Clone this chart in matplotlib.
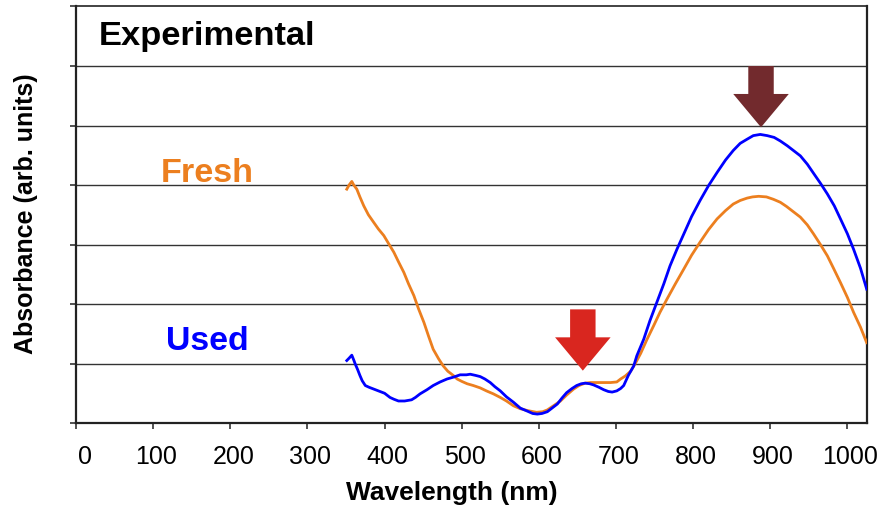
import matplotlib
matplotlib.use("Agg")
import matplotlib.pyplot as plt
from matplotlib.transforms import ScaledTranslation

plt.rcParams['font.family'] = ['Liberation Sans', 'DejaVu Sans']

# Absorbance spectra (arbitrary units)
fresh_nm = [351, 354, 357.5, 360, 364, 368, 373, 379, 386, 392, 399, 405, 412, 418,
            425, 431, 438, 444, 451, 457, 463, 470, 476, 482, 489, 494, 500, 507,
            515, 524, 532, 541, 550, 558, 567, 576, 585, 597, 605, 611, 619, 628,
            636, 645, 652, 660, 667, 675, 684, 693, 701, 706, 712, 719, 725, 732,
            740, 749, 757, 766, 777, 788, 798, 809, 820, 831, 842, 852, 861, 870,
            877, 885, 895, 904, 913, 921, 930, 939, 948, 956, 965, 974, 982, 991,
            1000, 1008, 1017, 1025]
fresh_abs = [3.93, 4.00, 4.06, 4.00, 3.93, 3.80, 3.65, 3.50, 3.37, 3.26, 3.15, 3.02,
             2.87, 2.71, 2.53, 2.34, 2.14, 1.92, 1.69, 1.46, 1.24, 1.08, 0.96, 0.87,
             0.80, 0.74, 0.70, 0.66, 0.63, 0.59, 0.54, 0.49, 0.43, 0.37, 0.29, 0.24,
             0.21, 0.18, 0.19, 0.22, 0.29, 0.37, 0.47, 0.57, 0.63, 0.67, 0.68, 0.68,
             0.68, 0.68, 0.69, 0.74, 0.79, 0.87, 1.00, 1.17, 1.40, 1.64, 1.86, 2.08,
             2.34, 2.59, 2.82, 3.04, 3.25, 3.43, 3.57, 3.68, 3.74, 3.78, 3.80, 3.81,
             3.80, 3.76, 3.71, 3.64, 3.55, 3.46, 3.33, 3.18, 3.00, 2.81, 2.60, 2.36,
             2.11, 1.86, 1.61, 1.35]

used_nm = [351, 354, 357.5, 360, 362, 365, 368, 371, 375, 380, 386, 394, 400, 407,
           412, 418, 426, 435, 440, 446, 455, 463, 472, 481, 489, 498, 506, 511,
           518, 524, 530, 537, 543, 550, 558, 567, 576, 585, 592, 598, 604, 611,
           617, 624, 630, 636, 643, 649, 655, 660, 666, 671, 678, 684, 690, 695,
           701, 706, 710, 716, 723, 727, 736, 744, 753, 762, 770, 779, 788, 798,
           809, 820, 831, 842, 852, 861, 870, 878, 887, 896, 905, 913, 922, 930,
           939, 948, 957, 965, 974, 983, 991, 1000, 1008, 1017, 1025]
used_abs = [1.05, 1.09, 1.14, 1.06, 0.99, 0.90, 0.80, 0.71, 0.63, 0.60, 0.57, 0.53,
            0.50, 0.43, 0.40, 0.37, 0.37, 0.39, 0.43, 0.49, 0.56, 0.63, 0.69, 0.74,
            0.77, 0.81, 0.81, 0.82, 0.80, 0.78, 0.74, 0.68, 0.61, 0.54, 0.44, 0.35,
            0.25, 0.20, 0.16, 0.15, 0.16, 0.19, 0.25, 0.32, 0.42, 0.51, 0.58, 0.63,
            0.66, 0.67, 0.66, 0.64, 0.60, 0.56, 0.53, 0.52, 0.54, 0.58, 0.63, 0.80,
            0.96, 1.13, 1.41, 1.72, 2.03, 2.34, 2.64, 2.92, 3.18, 3.47, 3.74, 3.99,
            4.21, 4.42, 4.58, 4.70, 4.77, 4.83, 4.85, 4.83, 4.80, 4.74, 4.66, 4.58,
            4.49, 4.35, 4.18, 4.03, 3.85, 3.65, 3.43, 3.18, 2.92, 2.60, 2.25]

x_ticks = [0, 100, 200, 300, 400, 500, 600, 700, 800, 900, 1000]
x_tick_labels = [str(v) for v in x_ticks]

# Block arrows marking the absorption bands: (tip wavelength, tip height, colour)
band_arrows = [(657, 0.88, '#D9261F'), (888, 4.97, '#722A2D')]

ORANGE = '#EC7F1F'
BLUE = '#0000FF'

fig = plt.figure(figsize=(8.79, 5.10), dpi=100)
ax = fig.add_axes([0.0865, 0.1686, 0.8995, 0.8167])

ax.set_xlim(0, 1025)
ax.set_ylim(0, 7)

for y in range(1, 7):
    ax.axhline(y, color='#333333', lw=1.0, zorder=1)

ax.plot(fresh_nm, fresh_abs, color=ORANGE, lw=2.0, zorder=3,
        solid_joinstyle='round')
ax.plot(used_nm, used_abs, color=BLUE, lw=2.0, zorder=4,
        solid_joinstyle='round')

for tip_x, tip_y, col in band_arrows:
    length = 1.03
    ax.arrow(tip_x, tip_y + length, 0, -length, width=33, head_width=72,
             head_length=0.56, length_includes_head=True, color=col,
             lw=0, zorder=5)

ax.text(29.6, 6.37, 'Experimental', fontsize=24.8, fontweight='bold',
        color='black', va='baseline', ha='left')
ax.text(110, 4.06, 'Fresh', fontsize=24.6, fontweight='bold', color=ORANGE,
        va='baseline', ha='left')
ax.text(116.7, 1.24, 'Used', fontsize=24.4, fontweight='bold', color=BLUE,
        va='baseline', ha='left')

ax.set_xticks(x_ticks)
ax.set_xticklabels(x_tick_labels, fontsize=18)
ax.set_yticks(range(0, 8))
ax.set_yticklabels([])
ax.tick_params(axis='x', direction='out', length=4, width=1.2, pad=11,
               color='#333333')
ax.tick_params(axis='y', direction='out', length=4, width=1.2, color='#333333')

for i, lab in enumerate(ax.get_xticklabels()):
    dx = 9 if i == 0 else 3
    lab.set_transform(lab.get_transform() +
                      ScaledTranslation(dx / 100, 0, fig.dpi_scale_trans))

for side in ['left', 'bottom', 'right', 'top']:
    ax.spines[side].set_color('#222222')
    ax.spines[side].set_linewidth(1.6)
ax.spines['top'].set_linewidth(1.2)

ax.set_xlabel('Wavelength (nm)', fontsize=19, fontweight='bold',
              va='center', ha='center')
ax.xaxis.set_label_coords(0.4755, -0.1657)
ax.set_ylabel('Absorbance (arb. units)', fontsize=18, fontweight='bold',
              va='center', ha='center')
ax.yaxis.set_label_coords(-0.0632, 0.504)

fig.savefig('out.png', dpi=100)
